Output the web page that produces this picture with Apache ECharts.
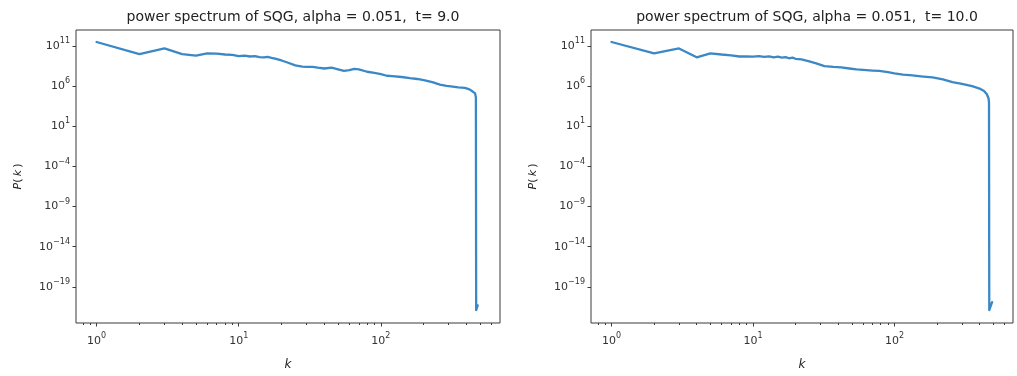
<!DOCTYPE html>
<html>
<head>
<meta charset="utf-8">
<script src="https://cdn.jsdelivr.net/npm/echarts/dist/echarts.min.js"></script>
<style>
  html, body { margin: 0; padding: 0; background: #fff; }
  #chart { width: 1017px; height: 376px; }
</style>
</head>
<body>
<div id="chart"></div>
<script>
// Panel titles
const titles = [
  'power spectrum of SQG, alpha = 0.051,  t= 9.0',
  'power spectrum of SQG, alpha = 0.051,  t= 10.0'
];

// Wavenumbers and spectrum values at t = 9.0
const kT9 = [1, 2, 3, 4, 5, 6, 7, 8, 9, 10, 11, 12, 13, 14, 15, 16, 17, 18, 20, 22, 25, 28, 30, 33, 36, 40, 45, 50, 55, 60, 65, 70, 80, 90, 100, 110, 120, 140, 160, 180, 200, 230, 260, 290, 320, 350, 390, 420, 445, 460, 466, 468, 474, 480];
const pT9 = [3.2e11, 1.0e10, 5.0e10, 1.0e10, 6.3e9, 1.26e10, 1.12e10, 8.9e9, 7.9e9, 5.6e9, 6.3e9, 5.0e9, 5.6e9, 4.2e9, 3.8e9, 4.5e9, 3.4e9, 2.7e9, 1.6e9, 8.9e8, 4.0e8, 2.8e8, 2.5e8, 2.6e8, 2.0e8, 1.6e8, 2.0e8, 1.26e8, 7.9e7, 1.0e8, 1.4e8, 1.26e8, 6.3e7, 4.5e7, 3.2e7, 2.0e7, 1.8e7, 1.4e7, 1.0e7, 7.9e6, 5.6e6, 3.2e6, 1.6e6, 1.1e6, 8.9e5, 7.1e5, 6.3e5, 4.0e5, 2.0e5, 1.26e5, 4.0e4, 1.26e-22, 1.26e-22, 5.0e-22];

// Wavenumbers and spectrum values at t = 10.0
const kT10 = [1, 2, 3, 4, 5, 6, 7, 8, 9, 10, 11, 12, 13, 14, 15, 16, 17, 18, 19, 20, 22, 25, 28, 32, 37, 42, 48, 54, 60, 70, 78, 90, 100, 115, 134, 160, 186, 220, 257, 300, 354, 400, 430, 450, 462, 466, 468, 476, 490];
const pT10 = [3.2e11, 1.26e10, 5.0e10, 4.0e9, 1.26e10, 8.9e9, 7.1e9, 5.0e9, 5.25e9, 4.8e9, 5.5e9, 4.4e9, 5.25e9, 4.0e9, 4.8e9, 3.55e9, 4.2e9, 3.0e9, 3.55e9, 2.6e9, 2.2e9, 1.26e9, 7.1e8, 3.2e8, 2.5e8, 2.2e8, 1.6e8, 1.26e8, 1.1e8, 8.9e7, 7.9e7, 5.6e7, 4.0e7, 2.8e7, 2.2e7, 1.6e7, 1.26e7, 7.1e6, 3.2e6, 2.0e6, 1.0e6, 5.0e5, 2.5e5, 1.0e5, 3.2e4, 1.0e4, 1.26e-22, 1.26e-22, 1.26e-21];

// Axis ticks (decade exponents) and their labels
const xTickExps = [0, 1, 2];
const xTickLabels = ['0', '1', '2'];
const yTickExps = [11, 6, 1, -4, -9, -14, -19];
const yTickLabels = ['11', '6', '1', '\u22124', '\u22129', '\u221214', '\u221219'];
const xMinorTicks = [0.8, 0.9, 2, 3, 4, 5, 6, 7, 8, 9, 20, 30, 40, 50, 60, 70, 80, 90, 200, 300, 400, 500, 600];

// Axis ranges
const xRange = [Math.pow(10, -0.145), Math.pow(10, 2.838)];
const yRange = [Math.pow(10, -23.5), Math.pow(10, 13.0)];

const FONT = 'DejaVu Sans';
const AXIS_COLOR = '#3a3a3a';
const LINE_COLOR = '#3b88c6';

const grids = [
  { left: 76, top: 30, width: 424, height: 294 },
  { left: 591, top: 30, width: 422, height: 294 }
];

function powLabel(exps, labels) {
  return function (v) {
    const e = Math.round(Math.log10(v));
    const i = exps.indexOf(e);
    const s = i >= 0 ? labels[i] : String(e);
    return '{b|10}{s|' + s + '}';
  };
}

const tickRich = {
  b: { fontFamily: FONT, fontSize: 11, color: '#333', lineHeight: 18 },
  s: { fontFamily: FONT, fontSize: 8, color: '#333', lineHeight: 10, verticalAlign: 'top' }
};

const xAxes = [];
const yAxes = [];
const series = [];
const titleOpts = [];
const datasets = [[kT9, pT9], [kT10, pT10]];

grids.forEach(function (g, gi) {
  titleOpts.push({
    text: titles[gi],
    left: g.left + g.width / 2,
    textAlign: 'center',
    top: 5,
    textStyle: { fontFamily: FONT, fontSize: 14, fontWeight: 'normal', color: '#222' }
  });
  // main x axis
  xAxes.push({
    type: 'log', gridIndex: gi, logBase: 10,
    min: xRange[0], max: xRange[1],
    name: 'k', nameLocation: 'middle', nameGap: 36,
    nameTextStyle: { fontFamily: FONT, fontSize: 12, fontStyle: 'italic', color: '#222' },
    axisLine: { show: false },
    splitLine: { show: false },
    axisTick: {
      show: true, length: 3.5, inside: false,
      lineStyle: { color: AXIS_COLOR, width: 1 },
      customValues: xTickExps.map(function (e) { return Math.pow(10, e); })
    },
    axisLabel: {
      margin: 9,
      customValues: xTickExps.map(function (e) { return Math.pow(10, e); }),
      formatter: powLabel(xTickExps, xTickLabels),
      rich: tickRich
    }
  });
  // minor x ticks
  xAxes.push({
    type: 'log', gridIndex: gi, logBase: 10,
    min: xRange[0], max: xRange[1],
    position: 'bottom',
    axisLine: { show: false },
    splitLine: { show: false },
    axisLabel: { show: false },
    axisTick: {
      show: true, length: 2, inside: false,
      lineStyle: { color: AXIS_COLOR, width: 1 },
      customValues: xMinorTicks
    }
  });
  yAxes.push({
    type: 'log', gridIndex: gi, logBase: 10,
    min: yRange[0], max: yRange[1],
    name: '{i|P}(\u2009{i|k}\u2009)', nameLocation: 'middle', nameGap: 52, nameRotate: 90,
    nameTextStyle: {
      fontFamily: FONT, fontSize: 11, color: '#222',
      rich: { i: { fontFamily: FONT, fontSize: 11, fontStyle: 'italic', color: '#222' } }
    },
    axisLine: { show: false },
    splitLine: { show: false },
    axisTick: {
      show: true, length: 3.5, inside: false,
      lineStyle: { color: AXIS_COLOR, width: 1 },
      customValues: yTickExps.map(function (e) { return Math.pow(10, e); })
    },
    axisLabel: {
      margin: 6,
      customValues: yTickExps.map(function (e) { return Math.pow(10, e); }),
      formatter: powLabel(yTickExps, yTickLabels),
      rich: tickRich
    }
  });
  const ks = datasets[gi][0], ps = datasets[gi][1];
  series.push({
    type: 'line',
    xAxisIndex: gi * 2,
    yAxisIndex: gi,
    data: ks.map(function (k, i) { return [k, ps[i]]; }),
    showSymbol: false,
    symbol: 'none',
    animation: false,
    lineStyle: { color: LINE_COLOR, width: 2.3, join: 'round', cap: 'round' },
    clip: true
  });
});

const chart = echarts.init(document.getElementById('chart'), null, { renderer: 'canvas' });
chart.setOption({
  backgroundColor: '#fff',
  animation: false,
  title: titleOpts,
  grid: grids.map(function (g) {
    return Object.assign({ show: true, borderColor: AXIS_COLOR, borderWidth: 1, backgroundColor: 'transparent', containLabel: false }, g);
  }),
  xAxis: xAxes,
  yAxis: yAxes,
  series: series
});
</script>
</body>
</html>
